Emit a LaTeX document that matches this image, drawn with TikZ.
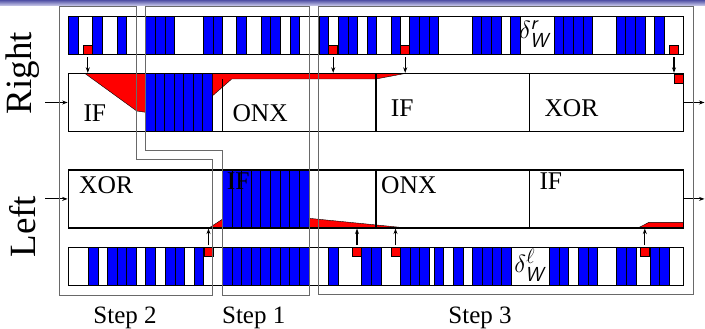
\documentclass[tikz,border=0pt]{standalone}
\usepackage{amsmath}
\usepackage{fontspec}
\setmainfont{Liberation Serif}
\usetikzlibrary{arrows.meta, calc}
\definecolor{cellblue}{RGB}{0,0,255}
\definecolor{markred}{RGB}{255,0,0}
\definecolor{framegray}{RGB}{105,105,105}
\definecolor{headtop}{RGB}{80,80,165}
\definecolor{headbot}{RGB}{210,210,238}
\tikzset{
  bluecell/.style={draw=black, fill=cellblue, line width=0.7pt},
  strip/.style={rectangle, draw=black, line width=1.3pt, minimum width=615pt,
                minimum height=38pt, inner sep=0pt},
  rowbox/.style={rectangle, draw=black, line width=1.3pt, minimum width=615pt,
                minimum height=58pt, inner sep=0pt},
  marker/.style={rectangle, draw=black, fill=markred, line width=0.5pt,
                minimum size=9pt, inner sep=0pt},
  wedge/.style={draw=black, fill=markred, line width=0.4pt},
  divider/.style={draw=black, line width=1.3pt},
  arrow/.style={-{Stealth[length=5.5pt, width=4pt]}, line width=1.1pt},
  stepframe/.style={draw=framegray, line width=0.9pt},
  boxlabel/.style={anchor=base west, inner sep=0pt, font=\fontsize{25.5}{25.5}\selectfont},
  steplabel/.style={anchor=base, inner sep=0pt, font=\fontsize{25}{25}\selectfont},
  sidelabel/.style={rotate=90, inner sep=0pt, font=\fontsize{37}{37}\selectfont},
  deltalabel/.style={inner sep=0pt, font=\fontsize{29}{29}\selectfont}
}

\begin{document}
\begin{tikzpicture}[x=1pt, y=-1pt]
  \useasboundingbox (0,0) rectangle (705,329);

  %% ── Header band ─────────────────────────────────────────────────────────
  \shade[top color=headtop, bottom color=headbot] (0,0) rectangle (705,6);

  %% ── Strips ──────────────────────────────────────────────────────────────
  \foreach \x in {68.3,92.7,117,145.7,155.3,165,203.3,213,236.7,261,270.7,290,
                  319,338.3,348,367,391,409.7,419.3,429,472,481.7,491.3,510.7,
                  554,563.7,573.3,583,616,625.7,635.3,654.3}
    \draw[bluecell] (\x,16.2) rectangle ++(9.6,38);
  \foreach \x in {88.3,107.3,117,126.7,145.7,165.3,175,194,328.3,361.7,371.3,
                  400.3,410,419.7,434,453.3,472.7,482.3,492,501.7,549.3,559,
                  578.3,588,616.7,626.3,650,659.7}
    \draw[bluecell] (\x,247.2) rectangle ++(9.6,38);
  \foreach \i in {0,...,8}
    \draw[bluecell] ({222.3+\i*9.633},247.2) rectangle ++(9.633,38);

  \node[strip] (deltaR) at (375.8,35.2) {};
  \node[strip] (deltaL) at (375.8,266.2) {};
  \node[deltalabel] (deltaRlab) at (535,34) {$\delta^{\textsf{\textit{r}}}_{\textsf{\textit{W}}}$};
  \node[deltalabel] (deltaLlab) at (530.3,265) {$\delta^{\ell}_{\textsf{\textit{W}}}$};

  \node[marker] (mkT1) at (87.8,49.7) {};
  \node[marker] (mkT2) at (333.2,49.7) {};
  \node[marker] (mkT3) at (405.2,49.7) {};
  \node[marker] (mkT4) at (674,49.7) {};
  \node[marker] (mkB1) at (208.5,251.9) {};
  \node[marker] (mkB2) at (357,251.9) {};
  \node[marker] (mkB3) at (395.5,251.9) {};
  \node[marker] (mkB4) at (644.8,251.9) {};

  %% ── Right row ───────────────────────────────────────────────────────────
  \foreach \i in {0,...,6}
    \draw[bluecell] ({145.7+\i*9.514},73.5) rectangle ++(9.514,58);
  \draw[wedge] (85,73.5) -- (145.7,73.5) -- (145.7,112.3) -- (136.7,111) -- cycle;
  \draw[wedge] (212.3,73.5) -- (405,73.5) -- (376,79) -- (231.7,79) -- (212.3,96) -- cycle;
  \draw[divider] (222.3,79) -- (222.3,131.5);
  \draw[divider] (376,73.5) -- (376,131.5);
  \draw[divider] (529.3,73.5) -- (529.3,131.5);
  \node[rowbox] (rowR) at (375.8,102.5) {};
  \node[marker] (mkR) at (678.8,78.7) {};

  \node[boxlabel] (rIF1) at (83.3,121.7) {IF};
  \node[boxlabel] (rONX) at (232.3,121.7) {ONX};
  \node[boxlabel] (rIF2) at (390.7,116.7) {IF};
  \node[boxlabel] (rXOR) at (544.3,116.7) {XOR};

  %% ── Left row ────────────────────────────────────────────────────────────
  \foreach \i in {0,...,8}
    \draw[bluecell] ({222.3+\i*9.633},169.9) rectangle ++(9.633,58);
  \draw[wedge] (209.3,227.8) -- (222.3,219.3) -- (222.3,227.8) -- cycle;
  \draw[wedge] (309,218.3) -- (405,227.8) -- (309,227.8) -- cycle;
  \draw[wedge] (638.3,227.8) -- (649,222.3) -- (683.3,222.3) -- (683.3,227.8) -- cycle;
  \draw[divider] (376,169.9) -- (376,227.8);
  \draw[divider] (529.3,169.9) -- (529.3,227.8);
  \node[rowbox] (rowL) at (375.8,198.9) {};

  \node[boxlabel] (lXOR) at (79,193.3) {XOR};
  \node[boxlabel] (lIF1) at (226.7,189.3) {IF};
  \node[boxlabel] (lONX) at (381,193.3) {ONX};
  \node[boxlabel] (lIF2) at (539.3,189) {IF};

  %% ── Arrows ──────────────────────────────────────────────────────────────
  \coordinate (inR) at (45,102.5);
  \coordinate (outR) at (704.5,102.5);
  \coordinate (inL) at (45,198.9);
  \coordinate (outL) at (704.5,198.9);
  \draw[arrow] (inR) -- (rowR.west);
  \draw[arrow] (rowR.east) -- (outR);
  \draw[arrow] (inL) -- (rowL.west);
  \draw[arrow] (rowL.east) -- (outL);

  \foreach \m in {mkT1,mkT2,mkT3,mkT4}
    \draw[arrow] ([yshift=-3pt]\m.south) -- (\m.south |- rowR.north);
  \foreach \m in {mkB1,mkB2,mkB3,mkB4}
    \draw[arrow] ([yshift=2pt]\m.north) -- (\m.north |- rowL.south);

  %% ── Steps ───────────────────────────────────────────────────────────────
  \draw[stepframe] (59.3,6) -- (136,6) -- (136,159.3) -- (212.3,159.3)
                   -- (212.3,295) -- (59.3,295) -- cycle;
  \draw[stepframe] (145.7,6) -- (309,6) -- (309,295) -- (222.3,295)
                   -- (222.3,150) -- (145.7,150) -- cycle;
  \draw[stepframe] (318.3,6) rectangle (693.3,294.5);

  \node[steplabel] (step2lab) at (125,323.3) {Step 2};
  \node[steplabel] (step1lab) at (253.7,323.3) {Step 1};
  \node[steplabel] (step3lab) at (480,323.3) {Step 3};

  \node[sidelabel] (sideR) at (22.5,73.3) {Right};
  \node[sidelabel] (sideL) at (22.5,226.7) {Left};

\end{tikzpicture}
\end{document}
